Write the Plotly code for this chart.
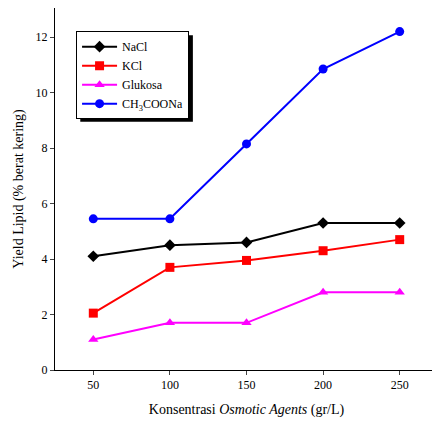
import plotly.graph_objects as go

x = [50, 100, 150, 200, 250]
nacl = [4.1, 4.5, 4.6, 5.3, 5.3]
kcl = [2.05, 3.7, 3.95, 4.3, 4.7]
glukosa = [1.1, 1.7, 1.7, 2.8, 2.8]
ch3coona = [5.45, 5.45, 8.15, 10.85, 12.2]

series = [
    ("NaCl", nacl, "black", "diamond"),
    ("KCl", kcl, "red", "square"),
    ("Glukosa", glukosa, "magenta", "triangle-up"),
    ("CH<sub>3</sub>COONa", ch3coona, "blue", "circle"),
]

fig = go.Figure()
for name, y, col, sym in series:
    fig.add_trace(go.Scatter(x=x, y=y, name=name, mode="lines+markers",
                             line=dict(color=col, width=2),
                             marker=dict(symbol=sym, size=9, color=col)))

# legend shadow
fig.add_shape(type="rect", xref="paper", yref="paper",
              x0=0.066, x1=0.36, y0=0.686, y1=0.925,
              fillcolor="black", line=dict(width=0), layer="above")

fig.update_layout(
    width=430, height=410,
    margin=dict(l=47, r=0, t=0, b=48),
    plot_bgcolor="white", paper_bgcolor="white",
    font=dict(family="Liberation Serif", size=12, color="black"),
    showlegend=True,
    legend=dict(x=0.055, y=0.936, xanchor="left", yanchor="top",
                bgcolor="white", bordercolor="black", borderwidth=1,
                font=dict(size=12), tracegroupgap=0, itemwidth=35),
    xaxis=dict(range=[25, 275], tickvals=x, showline=True, mirror=True,
               linecolor="black", linewidth=1, ticks="outside", ticklen=4,
               showgrid=False, zeroline=False, automargin=False,
               title=dict(text="Konsentrasi <i>Osmotic Agents</i> (gr/L)", standoff=12)),
    yaxis=dict(range=[0, 13.05], tickvals=[0, 2, 4, 6, 8, 10, 12], showline=True,
               mirror=True, linecolor="black", linewidth=1, ticks="outside",
               ticklen=4, showgrid=False, zeroline=False, automargin=False,
               title=dict(text="Yield Lipid (% berat kering)", standoff=8)),
)

fig.write_html("out.html")
